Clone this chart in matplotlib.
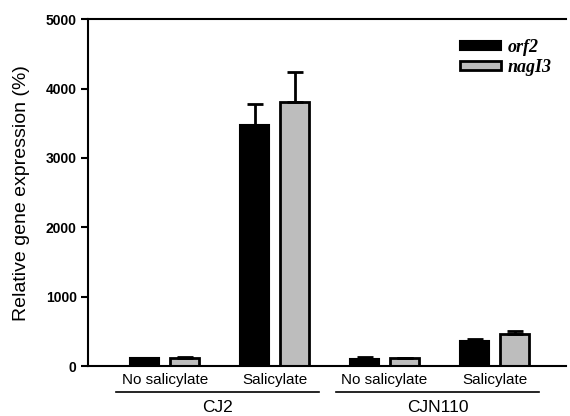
import numpy as np
from matplotlib import pyplot as plt

# data
conditions = ["No salicylate", "Salicylate", "No salicylate", "Salicylate"]
strains = ["CJ2", "CJN110"]
orf2 = [115, 3470, 105, 360]
orf2_err = [5, 310, 20, 35]
nagI3 = [115, 3800, 110, 460]
nagI3_err = [15, 445, 5, 40]

plt.rcParams['font.family'] = ['Liberation Sans', 'DejaVu Sans']

fig = plt.figure(figsize=(5.7, 4.16), dpi=100)
ax = fig.add_axes([0.154, 0.120, 0.839, 0.834])

x = np.arange(len(conditions))
w = 0.264
off = 0.182
ekw = dict(elinewidth=2, capthick=2, ecolor='black')
# only the upper half of each error bar is shown
ax.bar(x - off, orf2, w, yerr=[np.zeros(len(orf2)), orf2_err], color='black',
       edgecolor='black', linewidth=1.5, capsize=6, error_kw=ekw, label='orf2')
ax.bar(x + off, nagI3, w, yerr=[np.zeros(len(nagI3)), nagI3_err], color='#bdbdbd',
       edgecolor='black', linewidth=2, capsize=6, error_kw=ekw, label='nagI3')

ax.set_xlim(-0.70, 3.65)
ax.set_ylim(0, 5000)
ax.set_yticks([0, 1000, 2000, 3000, 4000, 5000])
ax.tick_params(axis='y', direction='out', length=5, width=1.5, labelsize=10, pad=3)
for lab in ax.get_yticklabels():
    lab.set_fontweight('bold')
ax.set_xticks(x)
ax.set_xticklabels(conditions, fontsize=11)
ax.tick_params(axis='x', length=0, pad=5)
ax.set_ylabel("Relative gene expression (%)", fontsize=14, labelpad=11)

for s in ['left', 'top', 'bottom']:
    ax.spines[s].set_linewidth(1.5)
ax.spines['right'].set_visible(False)

# group lines and strain labels
for i, name in enumerate(strains):
    a, b = 2 * i - 0.44, 2 * i + 1.40
    ax.plot([a, b], [-0.075, -0.075], color='black', lw=1.2,
            transform=ax.get_xaxis_transform(), clip_on=False)
    ax.text((a + b) / 2, -0.099, name, transform=ax.get_xaxis_transform(),
            ha='center', va='top', fontsize=12.5)

ax.legend(loc='upper left', bbox_to_anchor=(0.778, 0.943), frameon=False,
          borderpad=0, borderaxespad=0,
          handlelength=2.27, handleheight=0.4, handletextpad=0.4,
          labelspacing=0.15,
          prop=dict(family='Liberation Serif', style='italic', weight='bold', size=13))

plt.savefig("out.png", dpi=100)
